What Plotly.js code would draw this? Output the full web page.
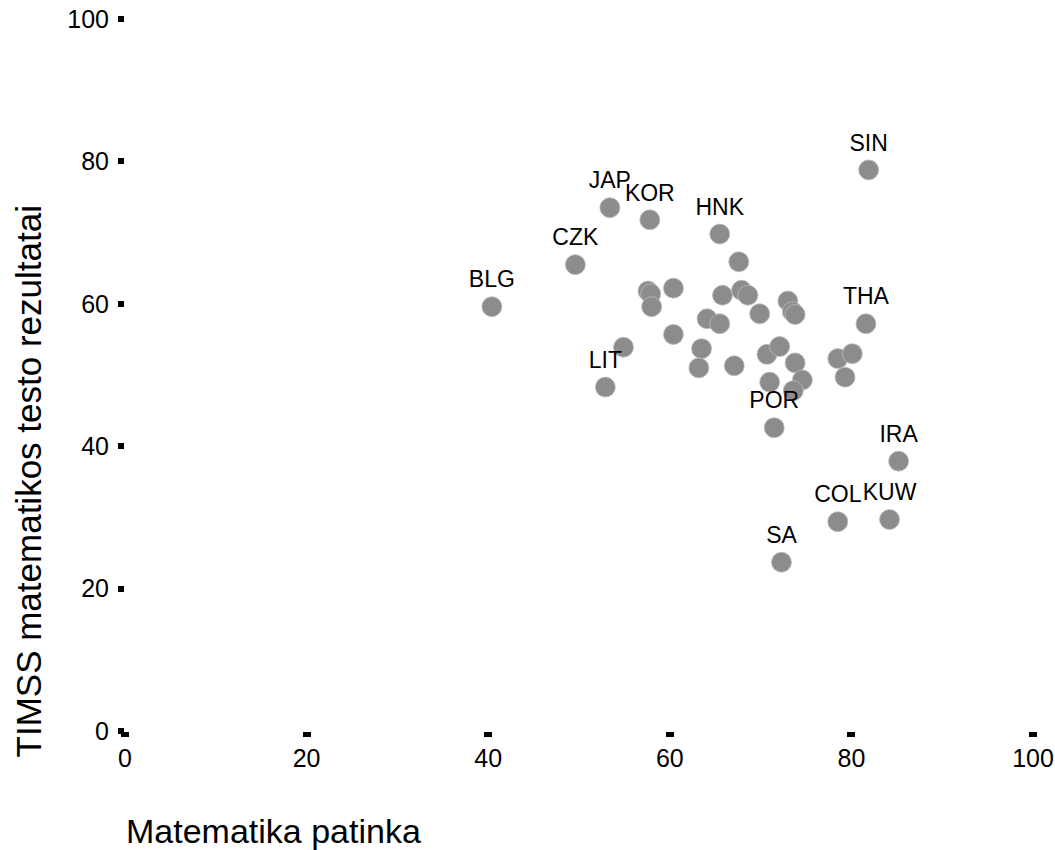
<!DOCTYPE html>
<html>
<head>
<meta charset="utf-8">
<script src="https://cdn.plot.ly/plotly-3.0.1.min.js"></script>
<style>html,body{margin:0;padding:0;background:#fff;}#chart{width:1055px;height:850px;}</style>
</head>
<body>
<div id="chart"></div>
<script>
// Matematika patinka (x) vs TIMSS matematikos testo rezultatai (y)
const likeMath = [53.4, 57.8, 65.5, 49.6, 40.4, 67.6, 57.6, 57.9, 60.4, 58.0,
                  65.8, 67.9, 68.6, 64.1, 65.5, 60.4, 54.9, 63.5, 63.2, 67.1,
                  52.9, 69.9, 73.0, 73.5, 73.8, 81.6, 70.7, 72.1, 73.8, 74.6,
                  71.0, 73.6, 71.5, 78.5, 80.1, 79.3, 85.2, 78.5, 84.2, 72.3, 81.9];
const timssScore = [73.5, 71.8, 69.8, 65.5, 59.6, 65.9, 61.8, 61.4, 62.2, 59.6,
                    61.2, 61.9, 61.2, 57.9, 57.2, 55.7, 53.9, 53.7, 51.0, 51.3,
                    48.3, 58.6, 60.4, 58.9, 58.5, 57.2, 52.9, 54.0, 51.7, 49.3,
                    49.0, 47.8, 42.6, 52.3, 53.0, 49.7, 37.9, 29.4, 29.7, 23.7, 78.8];
const countryLabels = ["JAP", "KOR", "HNK", "CZK", "BLG", "", "", "", "", "",
                       "", "", "", "", "", "", "", "", "", "",
                       "LIT", "", "", "", "", "THA", "", "", "", "",
                       "", "", "POR", "", "", "", "IRA", "COL", "KUW", "SA", "SIN"];
const tickValues = [0, 20, 40, 60, 80, 100];
const xTitleText = "Matematika patinka";
const yTitleText = "TIMSS matematikos testo rezultatai";

const FONT = "Liberation Sans, Arial, Helvetica, sans-serif";

const trace = {
  type: "scatter",
  mode: "markers+text",
  x: likeMath,
  y: timssScore,
  text: countryLabels,
  textposition: "top center",
  textfont: {family: FONT, size: 23, color: "#000"},
  cliponaxis: false,
  marker: {size: 20, color: "#8c8c8c", line: {color: "#bdbdbd", width: 0.8}},
  hoverinfo: "x+y+text"
};

const axisCommon = {
  range: [0, 100],
  tickvals: tickValues,
  ticktext: tickValues.map(String),
  showgrid: false,
  zeroline: false,
  showline: false,
  ticks: "outside",
  tickcolor: "#000",
  tickfont: {family: FONT, size: 25, color: "#000"}
};

const layout = {
  width: 1055,
  height: 850,
  margin: {l: 125, r: 22, t: 19, b: 119},
  paper_bgcolor: "#fff",
  plot_bgcolor: "#fff",
  showlegend: false,
  xaxis: Object.assign({}, axisCommon, {ticklen: 5, tickwidth: 8, ticklabelstandoff: 0}),
  yaxis: Object.assign({}, axisCommon, {ticklen: 6, tickwidth: 6, ticklabelstandoff: 4}),
  annotations: [
    {text: xTitleText, xref: "paper", yref: "paper", x: 0, y: -0.125,
     xanchor: "left", yanchor: "top", showarrow: false, xshift: -1, yshift: 10,
     font: {family: FONT, size: 34, color: "#000"}},
    {text: yTitleText, xref: "paper", yref: "paper", x: -0.105, y: 0.35,
     xanchor: "center", yanchor: "middle", textangle: -90, showarrow: false, xshift: -1,
     font: {family: FONT, size: 35, color: "#000"}}
  ]
};

Plotly.newPlot("chart", [trace], layout, {displayModeBar: false, staticPlot: true});
</script>
</body>
</html>
